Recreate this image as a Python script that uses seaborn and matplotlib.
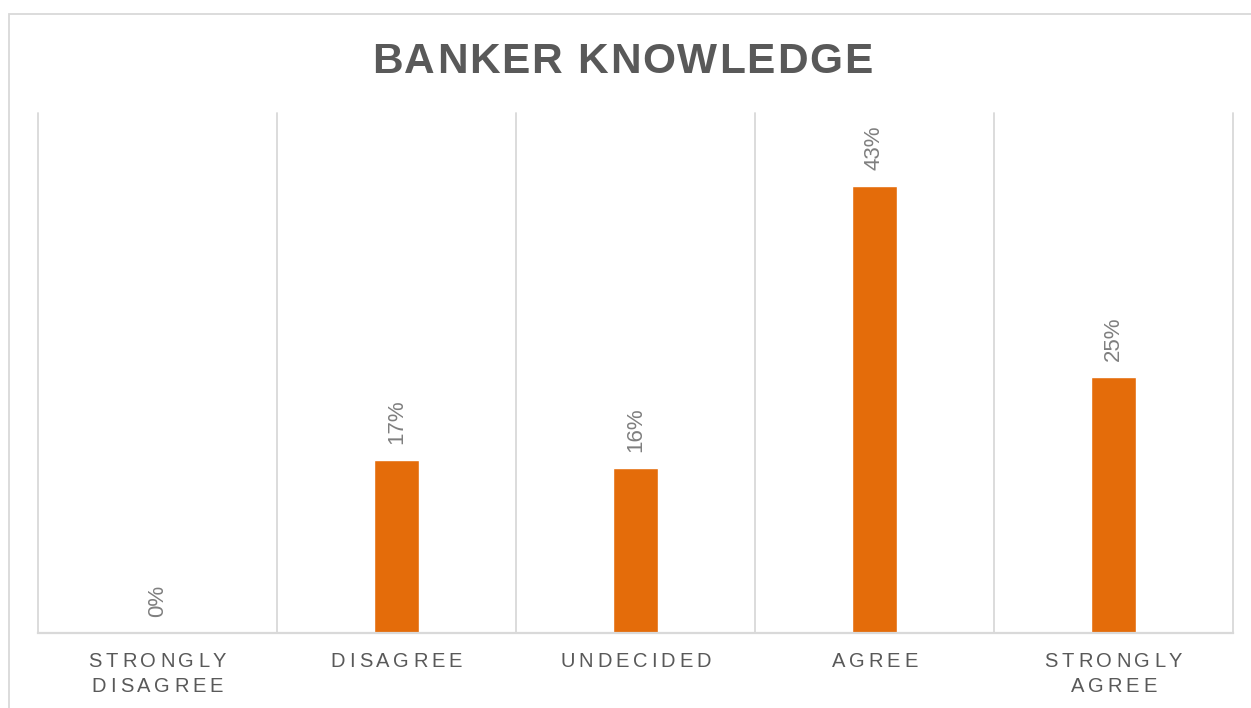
import matplotlib
matplotlib.use("Agg")
import matplotlib.pyplot as plt
import matplotlib.transforms as mtransforms
from matplotlib import font_manager, ft2font
from matplotlib.font_manager import FontProperties
from matplotlib.patches import Rectangle
import seaborn as sns
import pandas as pd

# Survey responses (share of respondents, %)
categories = ["STRONGLY\nDISAGREE", "DISAGREE", "UNDECIDED", "AGREE", "STRONGLY\nAGREE"]
shares = [0.0, 16.6, 15.9, 43.0, 24.6]
title_text = "BANKER KNOWLEDGE"

BAR_COLOR = "#E46C0A"
GRID_COLOR = "#D9D9D9"
TITLE_COLOR = "#595959"
TICK_COLOR = "#595959"
LABEL_COLOR = "#7F7F7F"
FONT = "Liberation Sans"

sns.set_theme(style="white")
plt.rcParams["font.family"] = [FONT, "DejaVu Sans"]

DPI = 100
W, H = 1251, 708
fig = plt.figure(figsize=(W / DPI, H / DPI), dpi=DPI)
fig.patch.set_facecolor("white")

# plot area in pixel coordinates
left_px, right_px, top_px, base_px = 38, 1233, 113, 633
ax = fig.add_axes([left_px / W, 1 - base_px / H,
                   (right_px - left_px) / W, (base_px - top_px) / H])

df = pd.DataFrame({"category": categories, "share": shares})
sns.barplot(data=df, x="category", y="share", color=BAR_COLOR,
            width=0.185, saturation=1, ax=ax)

ax.set_xlim(-0.5, len(categories) - 0.5)
ax.set_ylim(0, 50)
ax.set_xlabel("")
ax.set_ylabel("")
ax.set_yticks([])
ax.set_xticks(range(len(categories)))
ax.set_xticklabels([""] * len(categories))
ax.tick_params(axis="x", length=0)

# vertical separators between categories
for b in [i - 0.5 for i in range(len(categories) + 1)]:
    ax.axvline(b, color=GRID_COLOR, lw=1.3, zorder=0, clip_on=False)

for side in ["left", "right", "top"]:
    ax.spines[side].set_visible(False)
ax.spines["bottom"].set_color(GRID_COLOR)
ax.spines["bottom"].set_linewidth(1.6)

# value labels above bars, rotated
for i, v in enumerate(shares):
    ax.annotate(f"{v:.0f}%", xy=(i, v), xytext=(0, 11.5), textcoords="offset points",
                rotation=90, ha="center", va="bottom", fontsize=16,
                color=LABEL_COLOR, family=FONT)


def advances(text, size_pt, weight):
    path = font_manager.findfont(FontProperties(family=FONT, weight=weight))
    font = ft2font.FT2Font(path)
    font.set_size(size_pt, 72)
    out = []
    for ch in text:
        g = font.load_char(ord(ch))
        out.append(g.linearHoriAdvance / 65536.0)
    return out


def tracked(base_transform, x, y, text, size_pt, weight, color, tracking_pt, dy_pt=0.0):
    adv = advances(text, size_pt, weight)
    total = sum(adv) + tracking_pt * (len(text) - 1)
    pos = -total / 2.0
    for ch, a in zip(text, adv):
        tr = mtransforms.offset_copy(base_transform, fig=fig, x=pos, y=dy_pt, units="points")
        fig.text(x, y, ch, transform=tr, fontsize=size_pt, fontweight=weight,
                 color=color, family=FONT, ha="left", va="baseline")
        pos += a + tracking_pt


# category labels with letter spacing
px2pt = 72.0 / DPI
xaxis_tr = ax.get_xaxis_transform()
for i, cat in enumerate(categories):
    for j, line in enumerate(cat.split("\n")):
        baseline_px = 667 + 25 * j
        tracked(xaxis_tr, i, 0, line, 14.5, "normal", TICK_COLOR,
                2.8, dy_pt=-(baseline_px - base_px) * px2pt)

# chart title
tracked(fig.transFigure, 622 / W, 1 - 73 / H, title_text, 30.5, "bold",
        TITLE_COLOR, 1.3)

# chart frame
fig.patches.append(Rectangle((9 / W, -0.05), 1.2, 1 - 14 / H + 0.05,
                             transform=fig.transFigure, fill=False,
                             edgecolor=GRID_COLOR, lw=1.3))

fig.savefig("out.png", dpi=DPI, facecolor="white")
